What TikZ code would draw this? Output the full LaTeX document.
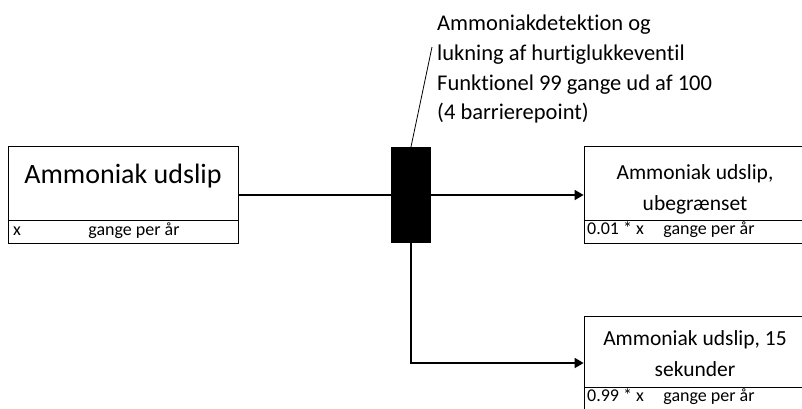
\documentclass[tikz,border=0pt]{standalone}
\usepackage{fontspec}
\setmainfont[Ligatures=NoCommon]{Carlito}
\usetikzlibrary{arrows.meta, positioning}

\begin{document}
\begin{tikzpicture}[x=1pt, y=-1pt,
  box/.style={draw, line width=0.8pt, inner sep=0pt},
  flow/.style={line width=1.6pt},
  arr/.style={flow, -{Triangle[length=9pt, width=10pt]}},
  rowtxt/.style={font=\fontsize{18}{20}\selectfont, inner sep=0pt},
  headtxt/.style={font=\fontsize{21.5}{31}\selectfont, align=center, inner sep=0pt}]

\useasboundingbox (0,0) rectangle (802,408);

% Source event
\node[box, minimum width=230pt, minimum height=97pt] (src) at (123,195) {};
\draw[line width=0.8pt] (src.west |- 0,220) -- (src.east |- 0,220);
\node[font=\fontsize{28}{32}\selectfont, inner sep=0pt, anchor=base] (srcname) at (123,183) {Ammoniak udslip};
\node[rowtxt, anchor=mid west] (srcx) at (13,233) {x};
\node[rowtxt, anchor=mid] (srcfreq) at (134,233) {gange per år};

% Barrier
\node[fill=black, minimum width=40pt, minimum height=96pt, inner sep=0pt] (bar) at (411,195) {};
\coordinate (bartip) at (432,47);
\node[font=\fontsize{22.5}{29.7}\selectfont, align=left, inner sep=0pt, anchor=north west] (barlabel) at (437,15)
  {Ammoniakdetektion og\\lukning af hurtiglukkeventil\\Funktionel 99 gange ud af 100\\(4 barrierepoint)};
\draw[line width=0.8pt] (bar.north) -- (bartip);

% Outcome 1
\node[box, minimum width=222pt, minimum height=97pt] (tgta) at (695,195) {};
\draw[line width=0.8pt] (tgta.west |- 0,220) -- (tgta.east |- 0,220);
\node[headtxt] (tganame) at (695,189) {Ammoniak udslip,\\ubegrænset};
\node[rowtxt, anchor=mid west] (tgax) at (587,232) {0.01 * x};
\node[rowtxt, anchor=mid] (tgafreq) at (709,232) {gange per år};

% Outcome 2
\node[box, minimum width=222pt, minimum height=94pt] (tgtb) at (695,363) {};
\draw[line width=0.8pt] (tgtb.west |- 0,387) -- (tgtb.east |- 0,387);
\node[headtxt] (tgbname) at (695,354) {Ammoniak udslip, 15\\sekunder};
\node[rowtxt, anchor=mid west] (tgbx) at (587,399) {0.99 * x};
\node[rowtxt, anchor=mid] (tgbfreq) at (709,399) {gange per år};

% Connectors
\draw[flow] (src.east) -- (bar.west);
\draw[arr] (bar.east) -- (tgta.west);
\draw[arr] (bar.south) |- (tgtb.west);

\end{tikzpicture}
\end{document}
